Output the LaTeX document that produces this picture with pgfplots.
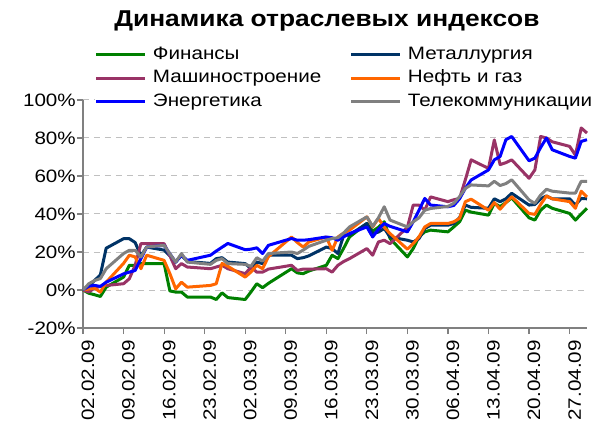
\documentclass[border=0pt]{standalone}
\usepackage{fontspec}
\setmainfont{Liberation Sans}[FakeStretch=1.15]
\usepackage{pgfplots}
\pgfplotsset{compat=1.18}
\definecolor{cfin}{HTML}{008000}
\definecolor{cmet}{HTML}{003366}
\definecolor{cmash}{HTML}{993366}
\definecolor{coil}{HTML}{FF6600}
\definecolor{cen}{HTML}{0000FF}
\definecolor{ctel}{HTML}{808080}
\definecolor{axgray}{HTML}{808080}
\definecolor{gridgray}{HTML}{C0C0C0}
\begin{document}
\begin{tikzpicture}
\begin{axis}[
  name=ax, at={(0,0)}, anchor=south west,
  width=504bp, height=228bp, scale only axis,
  xmin=0, xmax=87, ymin=-20, ymax=100,
  axis x line*=bottom, axis y line*=left,
  axis line style={draw=axgray, line width=1.2bp, -},
  xtick={0,7,...,84},
  xticklabels={02.02.09,09.02.09,16.02.09,23.02.09,02.03.09,09.03.09,16.03.09,23.03.09,30.03.09,06.04.09,13.04.09,20.04.09,27.04.09},
  ytick={-20,0,20,40,60,80,100},
  yticklabels={-20\%,0\%,20\%,40\%,60\%,80\%,100\%},
  tick align=outside, major tick length=6bp,
  tick style={draw=axgray, line width=1.2bp},
  ymajorgrids,
  grid style={draw=gridgray, line width=1bp, dash pattern=on 6bp off 5bp},
  tick label style={font=\fontsize{18}{20}\selectfont, text=black},
  xticklabel style={xshift=5bp, yshift=-6bp, rotate=90, anchor=east, inner sep=0pt},
  yticklabel style={anchor=east, inner sep=0pt, xshift=-1bp},
  title={Динамика отраслевых индексов},
  title style={at={(axis description cs:0.484,1.296)}, anchor=base, inner sep=0pt,
    font=\fontsize{23}{26}\selectfont\bfseries},
  legend columns=2,
  legend cell align=left,
  legend style={at={(axis description cs:0.0238,1.236)}, anchor=north west,
    draw=none, fill=white, inner sep=0pt, outer sep=0pt,
    font=\fontsize{18}{20}\selectfont,
    nodes={inner sep=0pt, text width=190bp, text height=13bp, text depth=4bp, align=left},
    row sep=6.5bp,
    /tikz/column 1/.style={column sep=6bp},
    /tikz/column 2/.style={column sep=7bp},
    /tikz/column 3/.style={column sep=6bp}},
  legend image code/.code={\draw[#1] (0bp,0bp) -- (49bp,0bp);},
  every axis plot/.append style={line width=3bp, line join=round, mark=none},
  clip=false,
]
\addplot[cfin] coordinates {(0,0)(1,-1.7)(2,-2.5)(3,-3.4)(4,1.5)(7,6.8)(8,13)(9,13)(10,13.9)(11,13.9)(14,13.9)(15,-0.5)(16,-1.1)(17,-1.1)(18,-3.7)(22,-3.7)(23,-5)(24,-1.5)(25,-4)(28,-5)(29,-1)(30,3.3)(31,1.2)(32,3.5)(36,11.2)(37,9)(38,8.6)(39,10)(42,13)(43,18.3)(44,16.5)(45,22)(46,27.9)(49,35)(50,31)(51,33)(52,35.9)(53,27.1)(56,17.4)(57,21.8)(58,28)(59,30.6)(60,31.5)(63,30.6)(64,33.2)(65,35.9)(66,42)(67,41)(70,39.4)(71,45.6)(72,43.9)(73,46)(74,48.5)(77,38)(78,36.8)(79,42)(80,44.7)(81,43)(84,40.3)(85,36.8)(86,40)(87,43)};
\addlegendentry{Финансы}
\addplot[cmet] coordinates {(0,0)(1,2)(2,5)(3,8)(4,22)(7,27)(8,27)(9,25)(10,18)(11,22.6)(14,21)(15,18)(16,14.7)(17,18.3)(18,15)(22,14)(23,16.5)(24,17)(25,14.7)(28,13.9)(29,11.2)(30,14.7)(31,13.9)(32,18.3)(36,18.3)(37,16.5)(38,17)(39,18)(42,22.6)(43,21.8)(44,19.2)(45,28.8)(46,29)(49,35)(50,29.7)(51,30.5)(52,32.4)(53,27.9)(56,26.2)(57,25.3)(58,27)(59,32.4)(60,34.1)(63,34.1)(64,35)(65,38)(66,44.7)(67,43.5)(70,43)(71,48)(72,46.5)(73,48)(74,50.9)(77,44.7)(78,45)(79,48)(80,49.5)(81,48)(84,48)(85,44.7)(86,48.2)(87,48)};
\addlegendentry{Металлургия}
\addplot[cmash] coordinates {(0,0)(1,-1)(2,1)(3,1.9)(4,2.4)(7,3.3)(8,5.9)(9,13)(10,24.4)(11,24.4)(14,24.4)(15,18)(16,11.2)(17,13.9)(18,12.1)(22,11.2)(23,12.1)(24,13)(25,11.2)(28,8.6)(29,12)(30,9.4)(31,9.4)(32,11)(36,13)(37,10.3)(38,11)(39,11)(42,11.2)(43,9.4)(44,13)(45,15)(46,16.5)(49,21.8)(50,18.3)(51,25.3)(52,26.2)(53,24.4)(56,33)(57,44.7)(58,44.7)(59,42)(60,49)(63,46.5)(64,47.5)(65,48.2)(66,58)(67,68.5)(70,64)(71,79)(72,66)(73,67)(74,68.5)(77,58.8)(78,63.2)(79,80.8)(80,80)(81,78)(84,75.6)(85,71)(86,85.3)(87,82.6)};
\addlegendentry{Машиностроение}
\addplot[coil] coordinates {(0,0)(1,0.5)(2,1)(3,-1.1)(4,4.1)(7,14)(8,18.3)(9,17.4)(10,11.2)(11,18.3)(14,15.6)(15,8.6)(16,0.6)(17,4.1)(18,1.5)(22,2.4)(23,3.3)(24,14)(25,12.5)(28,6.8)(29,9.5)(30,13)(31,11.2)(32,17.5)(36,27.9)(37,25)(38,22.6)(39,25.3)(42,27.9)(43,20.9)(44,27.9)(45,30)(46,31.5)(49,38.5)(50,33.2)(51,37.7)(52,33)(53,29.7)(56,21.5)(57,24.4)(58,28)(59,33.2)(60,35)(63,35)(64,35.9)(65,37.7)(66,46.5)(67,47.8)(70,42)(71,46)(72,42.5)(73,46)(74,49.1)(77,40.3)(78,39.8)(79,45)(80,49.5)(81,48)(84,46.5)(85,43)(86,52)(87,49)};
\addlegendentry{Нефть и газ}
\addplot[cen] coordinates {(0,0)(1,2)(2,2.4)(3,1.9)(4,4.1)(7,8.5)(8,9.4)(9,10.3)(10,16.5)(11,22.6)(14,23.5)(15,19)(16,14.7)(17,18.3)(18,15.6)(22,18.3)(23,20.5)(24,22.5)(25,24.5)(28,21.2)(29,21.5)(30,22.2)(31,19.2)(32,23.5)(36,27.1)(37,26.2)(38,26.2)(39,26.5)(42,27.9)(43,27.5)(44,26.2)(45,28)(46,29.7)(49,33.2)(50,27.9)(51,32)(52,35)(53,33.5)(56,30.6)(57,35.9)(58,42)(59,48.2)(60,44.7)(63,43.8)(64,44.5)(65,48)(66,53.5)(67,57.9)(70,63.2)(71,68.5)(72,70.3)(73,79.1)(74,80.8)(77,68)(78,69.4)(79,75)(80,80)(81,73.8)(84,70.3)(85,69.4)(86,78.2)(87,79.1)};
\addlegendentry{Энергетика}
\addplot[ctel] coordinates {(0,0)(1,3.3)(2,5)(3,6)(4,11.2)(7,19.2)(8,20.9)(9,20.9)(10,17.4)(11,22.6)(14,23.5)(15,19)(16,14.7)(17,19.2)(18,14.7)(22,13.5)(23,15.6)(24,16.5)(25,13.9)(28,13.5)(29,12.5)(30,17)(31,15.2)(32,19.2)(36,20)(37,19.2)(38,21)(39,23)(42,26.2)(43,27.1)(44,27.5)(45,30)(46,33.2)(49,38.5)(50,33.5)(51,38)(52,43.8)(53,36.8)(56,33.2)(57,35.9)(58,38)(59,42)(60,42.9)(63,44)(64,45.6)(65,49.1)(66,53.5)(67,55.3)(70,54.8)(71,57.2)(72,55)(73,56)(74,58)(77,47.4)(78,45.6)(79,50)(80,53)(81,52)(84,51)(85,51)(86,57.2)(87,57.2)};
\addlegendentry{Телекоммуникации}
\end{axis}
\pgfresetboundingbox
\path[use as bounding box] (-83bp,-98bp) rectangle (513bp,328bp);
\end{tikzpicture}
\end{document}
